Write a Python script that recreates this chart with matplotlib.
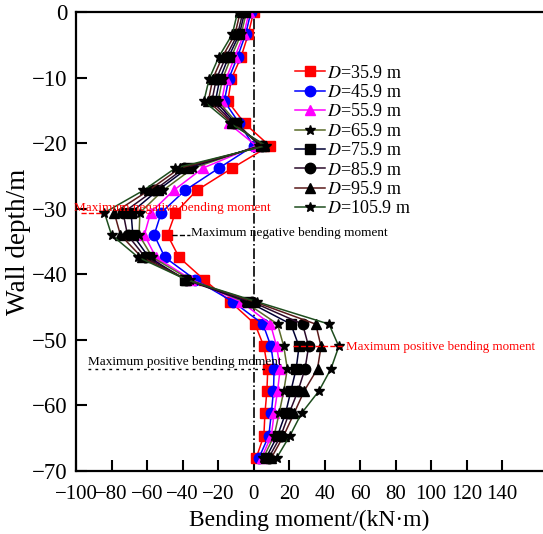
import matplotlib.pyplot as plt
import numpy as np

plt.rcParams["font.family"] = ["Liberation Serif", "DejaVu Serif"]
plt.rcParams["mathtext.fontset"] = "stix"

# wall depth of each measuring point (m)
depth = [0, -3.4, -6.8, -10.2, -13.6, -17.0, -20.4, -23.8, -27.2, -30.6, -34.0,
         -37.4, -40.8, -44.2, -47.6, -51.0, -54.4, -57.8, -61.2, -64.6, -68.0]

# bending moment (kN*m) for each excavation width D
m_359 = [0, -3, -7, -12.5, -14.5, -5, 9, -12, -32, -44, -48.5,
         -42, -28, -13, 0.8, 5.8, 8, 7.5, 6.4, 5.8, 1.5]
m_459 = [-1.5, -4.5, -9, -14, -16.5, -8, 0, -19.5, -38.6, -52, -56,
         -50, -33, -11.5, 5.3, 9.8, 11.6, 11.2, 10, 8.6, 3]
m_559 = [-2.5, -5.5, -10.5, -15.5, -18, -14, 1.5, -28.5, -45, -58, -61.5,
         -55, -35, -7, 9.5, 13, 15, 13.5, 11.6, 10, 4.5]
m_659 = [-4, -7, -12.5, -17.5, -20, -9, 3, -34, -51, -64, -64.5,
         -57, -36, -5, 13.5, 17, 19, 17, 14.4, 11.6, 5.5]
m_759 = [-5, -8, -14, -19, -21.5, -10, 4, -37, -54, -69, -68,
         -59, -38.6, -3, 21, 25.6, 24, 21, 18, 13.5, 7]
m_859 = [-6, -9, -15.5, -21, -23.5, -11, 5, -39, -56, -73.5, -71,
         -61, -38, -1, 27.6, 31, 29, 25, 20, 15.4, 8.5]
m_959 = [-7.5, -10.5, -17.5, -23, -25.5, -12, 6, -41.5, -59, -78.5, -75,
         -63, -38, 0.5, 35, 38, 36, 28.5, 22.8, 17, 10]
m_1059 = [-9, -12, -19.5, -25, -28, -13, 7, -44, -62, -84, -80,
          -65, -38, 2, 42.5, 48, 43.6, 36.8, 27, 20.5, 13]

widths = ["35.9", "45.9", "55.9", "65.9", "75.9", "85.9", "95.9", "105.9"]
series = [m_359, m_459, m_559, m_659, m_759, m_859, m_959, m_1059]
line_colors = ["#ff0000", "#0000ff", "#ff00ff", "#5a6b2a",
               "#000033", "#2a0a2a", "#5a1a1a", "#1e4d1e"]
marker_colors = ["#ff0000", "#0000ff", "#ff00ff", "black",
                 "black", "black", "black", "black"]
markers = ["s", "o", "^", "*", "s", "o", "^", "*"]

fig = plt.figure(figsize=(5.43, 5.34), dpi=100)
ax = fig.add_axes([0.140, 0.118, 0.86, 0.8595])

ax.axvline(0, color="black", linestyle="-.", linewidth=1.2)

for vals, w, lc, mc, mk in zip(series, widths, line_colors,
                               marker_colors, markers):
    ax.plot(vals, depth, color=lc, marker=mk, markersize=7.5,
            markerfacecolor=mc, markeredgecolor=mc, linewidth=1.1,
            label=r"$D$=" + w + " m")

# annotations
ax.plot([-97, -85], [-30.6, -30.6], color="red", linestyle="--", linewidth=1)
ax.text(-101, -30.4, "Maximum negative bending moment", color="red",
        fontsize=9.5, ha="left", va="baseline")
ax.plot([-46, -36], [-34, -34], color="black", linestyle="--", linewidth=1)
ax.text(-35, -33.7, "Maximum negative bending moment", color="black",
        fontsize=9.5, ha="left", va="center")
ax.plot([22, 51], [-51, -51], color="red", linestyle="--", linewidth=1)
ax.text(52, -51.1, "Maximum positive bending moment", color="red",
        fontsize=9.4, ha="left", va="center")
ax.plot([-93, 7], [-54.4, -54.4], color="black", linestyle=(0, (2, 3)),
        linewidth=1)
ax.text(-93, -53.9, "Maximum positive bending moment", color="black",
        fontsize=9.5, ha="left", va="baseline")

ax.set_xlim(-100, 163)
ax.set_ylim(-70, 0)
ax.set_xticks(np.arange(-100, 141, 20))
ax.set_yticks(np.arange(-70, 1, 10))
ax.tick_params(direction="in", length=8, width=1.5)
ax.tick_params(axis="x", labelsize=15, pad=10)
ax.tick_params(axis="y", labelsize=16.5, pad=6)
for s in ["left", "bottom", "top"]:
    ax.spines[s].set_linewidth(1.6)
ax.spines["right"].set_visible(False)

ax.set_xlabel("Bending moment/(kN·m)", fontsize=17, labelpad=4)
ax.set_ylabel("Wall depth/m", fontsize=19.5, labelpad=1)

ax.legend(loc="upper left", bbox_to_anchor=(0.468, 0.885), frameon=False,
          fontsize=13, handlelength=1.7, handletextpad=0.1,
          labelspacing=0.13, borderpad=0, borderaxespad=0)

fig.savefig("out.png", dpi=100)
